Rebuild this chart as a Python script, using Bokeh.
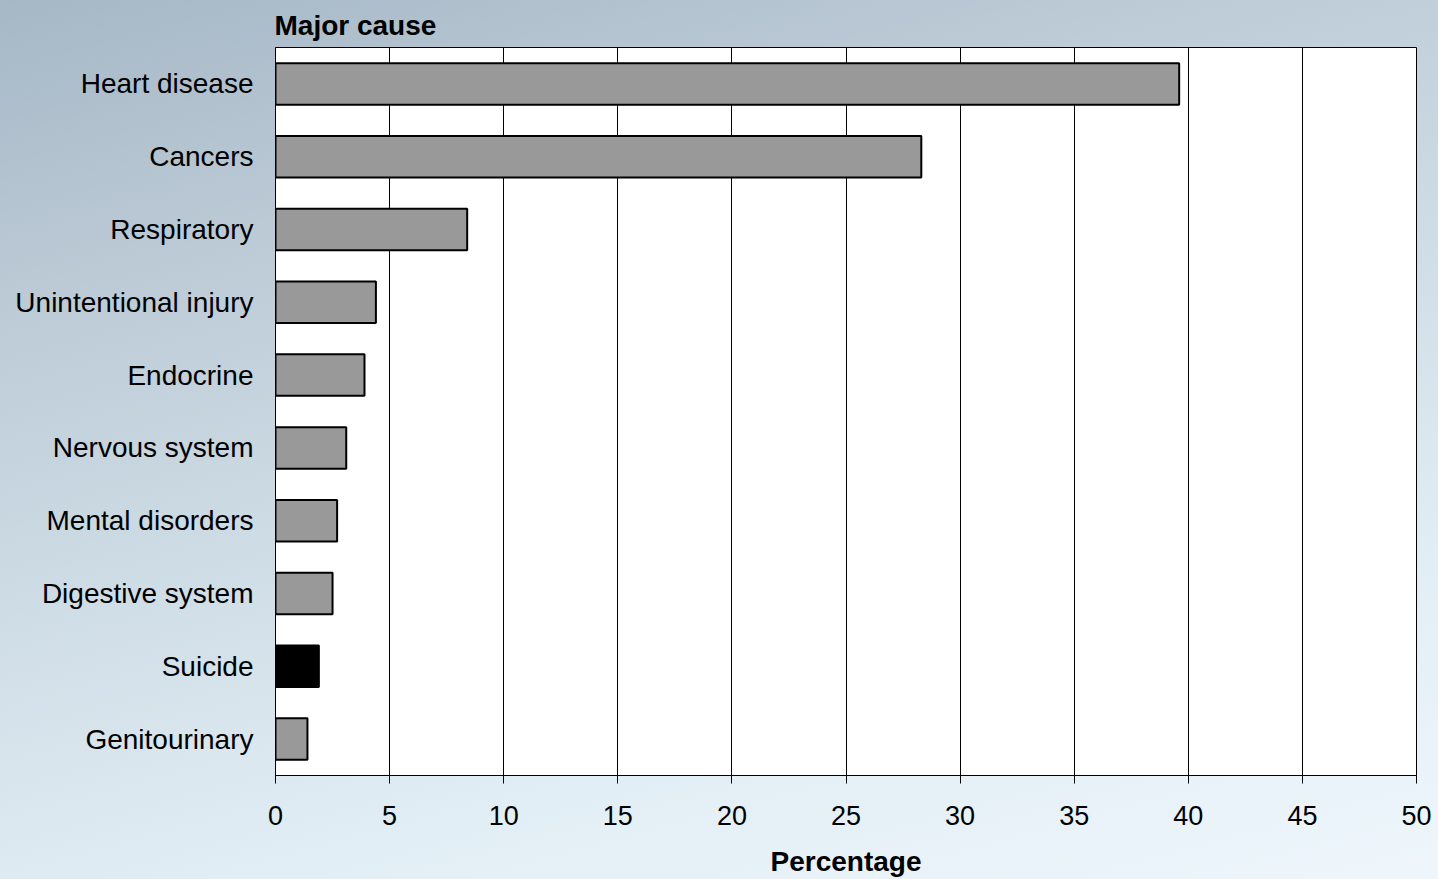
from bokeh.plotting import figure
from bokeh.models import FactorRange, Range1d, InlineStyleSheet, FixedTicker, ColumnDataSource
from bokeh.embed import file_html
from bokeh.resources import INLINE

causes = ["Heart disease", "Cancers", "Respiratory", "Unintentional injury", "Endocrine",
          "Nervous system", "Mental disorders", "Digestive system", "Suicide", "Genitourinary"]
percent = [39.6, 28.3, 8.4, 4.4, 3.9, 3.1, 2.7, 2.5, 1.9, 1.4]
highlight = "Suicide"
x_ticks = [0, 5, 10, 15, 20, 25, 30, 35, 40, 45, 50]

colors = ["#000000" if c == highlight else "#999999" for c in causes]
src = ColumnDataSource(dict(cause=causes, pct=percent, color=colors))

FONT = "Liberation Sans"

p = figure(y_range=FactorRange(factors=list(reversed(causes)), range_padding=0),
           x_range=Range1d(0, 50),
           frame_width=1141, frame_height=728,
           min_border_left=275, min_border_right=22, min_border_top=0, min_border_bottom=104,
           output_backend="svg", toolbar_location=None)

p.title.text = "Major cause"
p.title.align = "left"
p.title.text_font = FONT
p.title.text_font_size = "28px"
p.title.text_font_style = "bold"
p.title.text_color = "#000000"
p.title.offset = -1
p.title.standoff = 14

p.hbar(y="cause", right="pct", left=0, height=0.57, source=src,
       fill_color="color", line_color="#000000", line_width=2)

p.background_fill_color = "#ffffff"
p.border_fill_alpha = 0
p.stylesheets = [InlineStyleSheet(css=""":host { background: linear-gradient(165deg, #a6b7c6 0%, #bccbd6 25%, #cfdde6 50%, #e2eef5 75%, #eef6fb 100%); }""")]
p.outline_line_color = "#000000"
p.outline_line_width = 1
p.outline_line_alpha = 1

p.xgrid.grid_line_color = "#000000"
p.xgrid.grid_line_width = 1
p.xgrid.ticker = FixedTicker(ticks=x_ticks)
p.ygrid.grid_line_color = None

xa = p.xaxis[0]
xa.ticker = FixedTicker(ticks=x_ticks)
xa.axis_line_color = "#000000"
xa.major_tick_line_color = "#000000"
xa.major_tick_in = 0
xa.major_tick_out = 8
xa.minor_tick_line_color = None
xa.major_label_text_font = FONT
xa.major_label_text_font_size = "27px"
xa.major_label_text_color = "#000000"
xa.major_label_standoff = 22
xa.axis_label = "Percentage"
xa.axis_label_text_font = FONT
xa.axis_label_text_font_size = "28px"
xa.axis_label_text_font_style = "bold"
xa.axis_label_text_color = "#000000"
xa.axis_label_standoff = 18

ya = p.yaxis[0]
ya.axis_line_color = "#000000"
ya.major_tick_line_color = None
ya.minor_tick_line_color = None
ya.major_label_text_font = FONT
ya.major_label_text_font_size = "28px"
ya.major_label_text_color = "#000000"
ya.major_label_standoff = 16

open("out.html", "w").write(file_html(p, INLINE))
